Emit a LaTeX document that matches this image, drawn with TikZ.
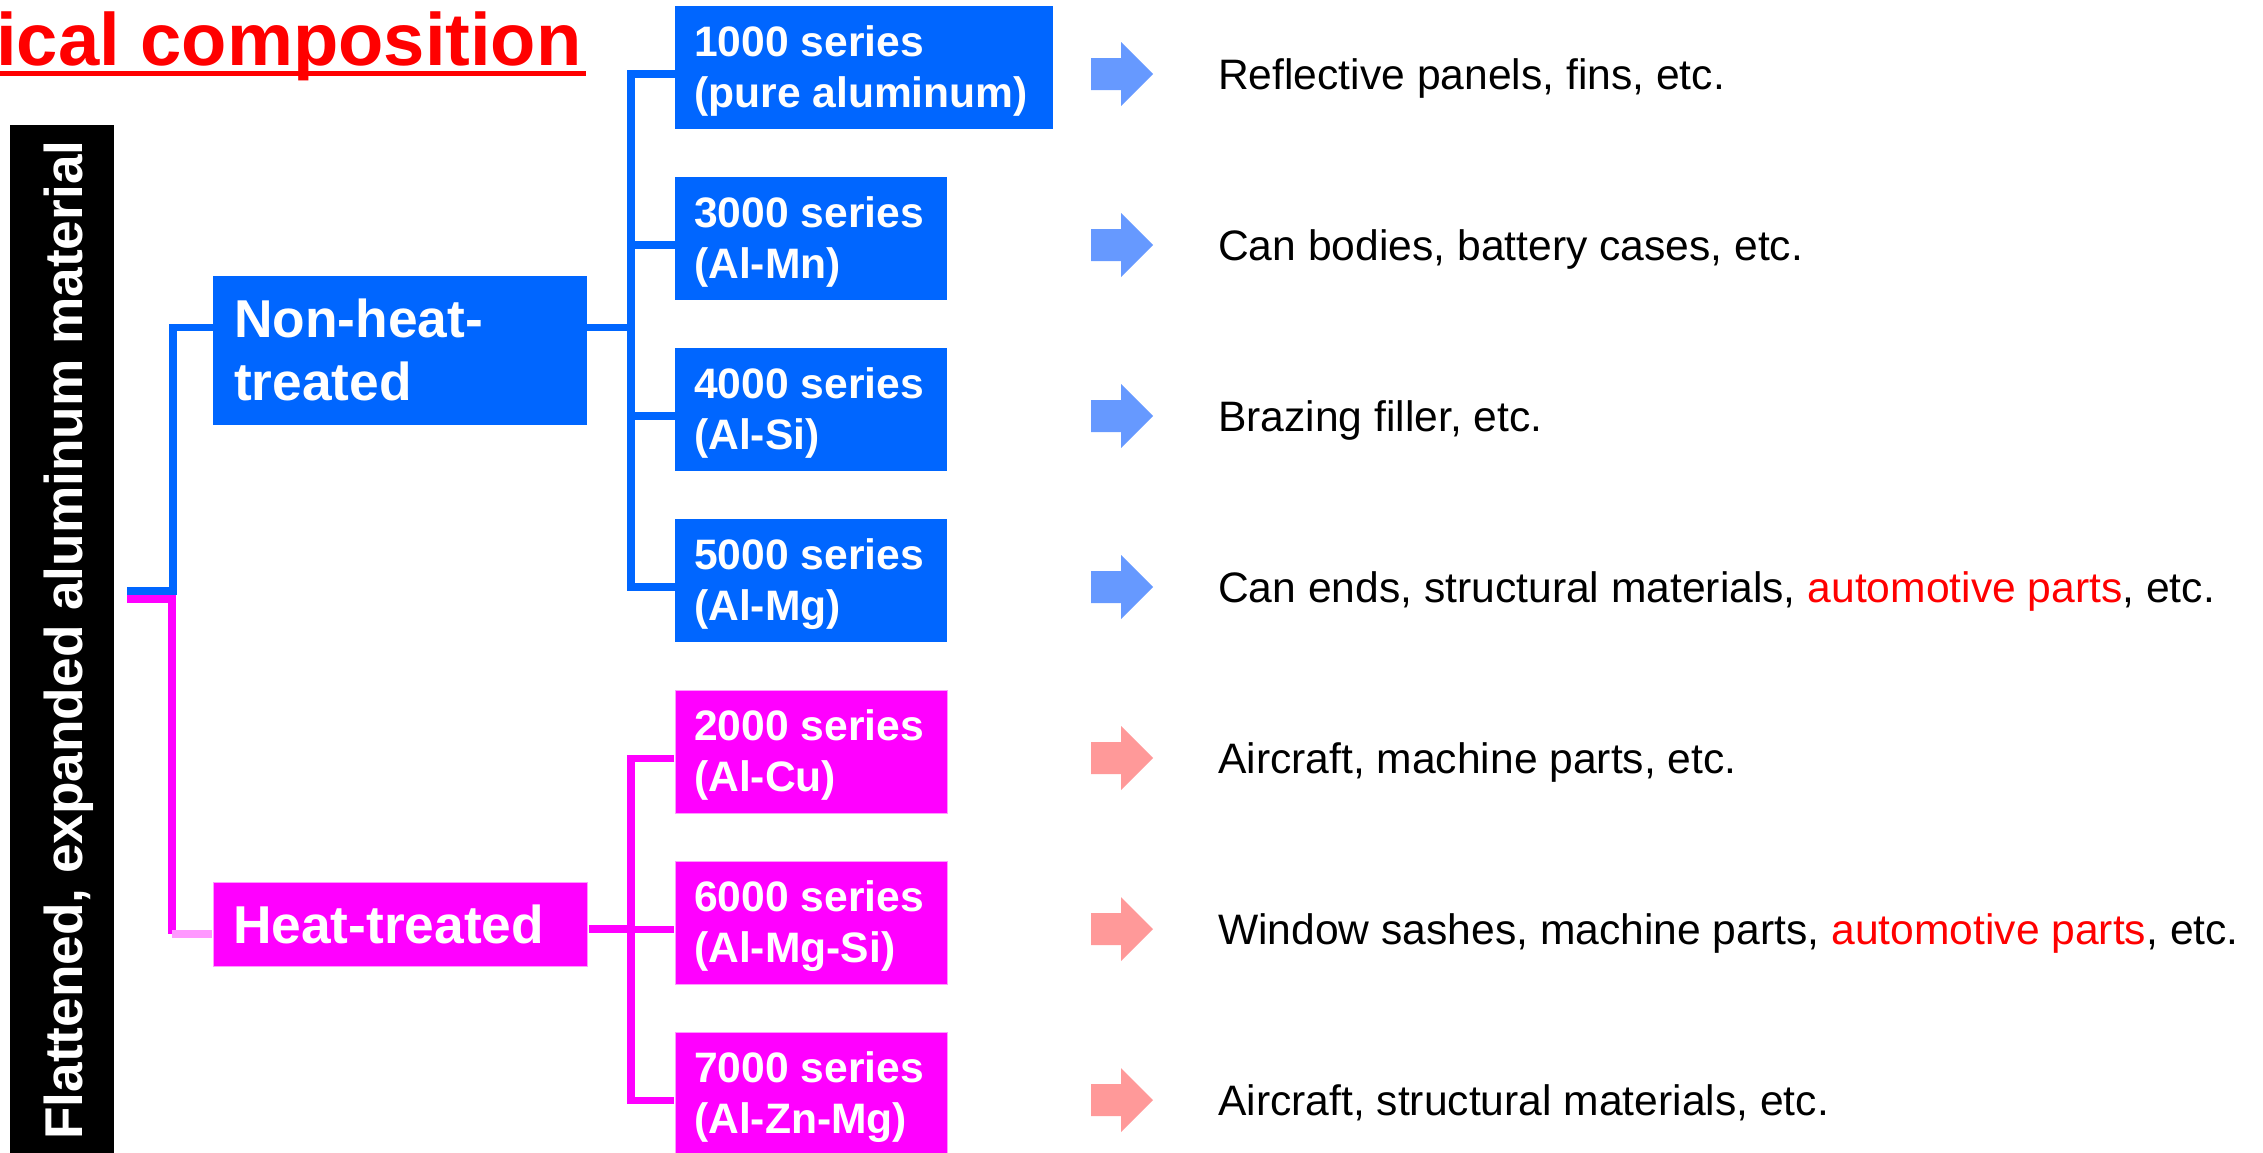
\documentclass[tikz,border=0pt]{standalone}
\usepackage{fontspec}
\setmainfont{Liberation Sans}
\usetikzlibrary{calc}
\definecolor{blueC}{HTML}{0066FF}
\definecolor{magC}{HTML}{FF00FF}
\definecolor{lpinkC}{HTML}{FF99FF}
\definecolor{arrBlueC}{HTML}{6699FF}
\definecolor{arrPinkC}{HTML}{FF9999}
\definecolor{redC}{HTML}{FF0000}
\newcommand\fatarrow[2]{\fill[#1,shift={(#2)}] (-31,-16) -- (-1,-16) -- (-1,-32) -- (31,0) -- (-1,32) -- (-1,16) -- (-31,16) -- cycle;}
\begin{document}
\begin{tikzpicture}[x=1pt,y=-1pt,
  blueln/.style={draw=blueC, line width=7.5pt},
  magln/.style={draw=magC, line width=7.5pt},
  lpln/.style={draw=lpinkC, line width=7.5pt},
  bbox/.style={fill=blueC, inner sep=0pt, anchor=north west, minimum height=123pt, minimum width=272pt},
  mbox/.style={bbox, fill=magC, draw=lpinkC, line width=1.2pt},
  btxt/.style={text=white, font=\bfseries\fontsize{42.6}{50}\selectfont, inner sep=0pt, anchor=base west},
  bigtxt/.style={text=white, font=\bfseries\fontsize{53.3}{63}\selectfont, inner sep=0pt, anchor=base west},
  usetxt/.style={font=\fontsize{42.6}{50}\selectfont, inner sep=0pt, anchor=base west}]
\useasboundingbox (0,0) rectangle (2263,1152);

% title
\node[font=\bfseries\fontsize{74.2}{80}\selectfont, text=redC, inner sep=0pt, anchor=base west] (title) at (-4,65) {ical composition};
\draw[redC, line width=5pt] ([shift={(4,8.5)}]title.base west) -- ([shift={(4,8.5)}]title.base east);

% left bar
\node[fill=black, inner sep=0pt, anchor=north west, minimum width=104pt, minimum height=1040pt] (bar) at (10,125) {};
\node[rotate=90, text=white, font=\bfseries\fontsize{53.2}{60}\selectfont, inner sep=0pt, anchor=base west] (bartext) at (82,1140) {Flattened, expanded aluminum material};

% group boxes
\node[fill=blueC, inner sep=0pt, anchor=north west, minimum width=374pt, minimum height=149pt] (nh) at (213,276) {};
\node[fill=magC, draw=lpinkC, line width=1.2pt, inner sep=0pt, anchor=north west, minimum width=374pt, minimum height=84pt] (ht) at (213,882) {};

% series boxes
\node[bbox, minimum width=378pt] (s1) at (675,6) {};
\node[bbox] (s3) at (675,177) {};
\node[bbox] (s4) at (675,348) {};
\node[bbox] (s5) at (675,519) {};
\node[mbox] (s2) at (675,690) {};
\node[mbox] (s6) at (675,861) {};
\node[mbox] (s7) at (675,1032) {};

% root connectors
\coordinate (rootB) at (127,591);
\coordinate (rootM) at (127,599);
\draw[blueln] (rootB) -| ([shift={(-40,-23)}]nh.west) -- ([shift={(0,-23)}]nh.west);
\draw[magln] (rootM) -| ([shift={(-41,9.5)}]ht.west);
\draw[lpln] ([shift={(-41,9.5)}]ht.west) -- ([shift={(-0.6,9.5)}]ht.west);

% group -> series connectors
\draw[blueln] ([shift={(0,-23)}]nh.east) -- ([shift={(-44,-23)}]nh.east -| s1.west) ;
\draw[blueln] ([shift={(0,6.5)}]s1.west) -| ([shift={(-44,6.5)}]s5.west) -- ([shift={(0,6.5)}]s5.west);
\draw[blueln] ([shift={(-44,6.5)}]s3.west) -- ([shift={(0,6.5)}]s3.west);
\draw[blueln] ([shift={(-44,6.5)}]s4.west) -- ([shift={(0,6.5)}]s4.west);
\draw[magln] ([shift={(0.6,4.5)}]ht.east) -- ([shift={(-44,4.5)}]ht.east -| s6.west);
\draw[magln] ([shift={(-0.6,6.5)}]s2.west) -| ([shift={(-44,6.5)}]s7.west) -- ([shift={(-0.6,6.5)}]s7.west);
\draw[magln] ([shift={(-44,6.5)}]s6.west) -- ([shift={(-0.6,6.5)}]s6.west);

% group texts
\node[bigtxt] (nht1) at ([shift={(21,61)}]nh.north west) {Non-heat-};
\node[bigtxt] (nht2) at ([shift={(21,124)}]nh.north west) {treated};
\node[bigtxt] (htt) at ([shift={(20,61)}]ht.north west) {Heat-treated};

% series texts
\node[btxt] (s1a) at ([shift={(19,50)}]s1.north west) {1000 series};
\node[btxt] (s1b) at ([shift={(19,101)}]s1.north west) {(pure aluminum)};
\node[btxt] (s3a) at ([shift={(19,50)}]s3.north west) {3000 series};
\node[btxt] (s3b) at ([shift={(19,101)}]s3.north west) {(Al-Mn)};
\node[btxt] (s4a) at ([shift={(19,50)}]s4.north west) {4000 series};
\node[btxt] (s4b) at ([shift={(19,101)}]s4.north west) {(Al-Si)};
\node[btxt] (s5a) at ([shift={(19,50)}]s5.north west) {5000 series};
\node[btxt] (s5b) at ([shift={(19,101)}]s5.north west) {(Al-Mg)};
\node[btxt] (s2a) at ([shift={(19,50)}]s2.north west) {2000 series};
\node[btxt] (s2b) at ([shift={(19,101)}]s2.north west) {(Al-Cu)};
\node[btxt] (s6a) at ([shift={(19,50)}]s6.north west) {6000 series};
\node[btxt] (s6b) at ([shift={(19,101)}]s6.north west) {(Al-Mg-Si)};
\node[btxt] (s7a) at ([shift={(19,50)}]s7.north west) {7000 series};
\node[btxt] (s7b) at ([shift={(19,101)}]s7.north west) {(Al-Zn-Mg)};

% arrows
\coordinate (a1) at (1122,74);
\coordinate (a3) at (1122,245);
\coordinate (a4) at (1122,416);
\coordinate (a5) at (1122,587);
\coordinate (a2) at (1122,758);
\coordinate (a6) at (1122,929);
\coordinate (a7) at (1122,1100);
\fatarrow{arrBlueC}{a1}
\fatarrow{arrBlueC}{a3}
\fatarrow{arrBlueC}{a4}
\fatarrow{arrBlueC}{a5}
\fatarrow{arrPinkC}{a2}
\fatarrow{arrPinkC}{a6}
\fatarrow{arrPinkC}{a7}

% uses
\node[usetxt] (u1) at (1218,89) {Reflective panels, fins, etc.};
\node[usetxt] (u3) at (1218,260) {Can bodies, battery cases, etc.};
\node[usetxt] (u4) at (1218,431) {Brazing filler, etc.};
\node[usetxt] (u5) at (1218,602) {Can ends, structural materials, \textcolor{redC}{automotive parts}, etc.};
\node[usetxt] (u2) at (1218,773) {Aircraft, machine parts, etc.};
\node[usetxt] (u6) at (1218,944) {Window sashes, machine parts, \textcolor{redC}{automotive parts}, etc.};
\node[usetxt] (u7) at (1218,1115) {Aircraft, structural materials, etc.};
\end{tikzpicture}
\end{document}
